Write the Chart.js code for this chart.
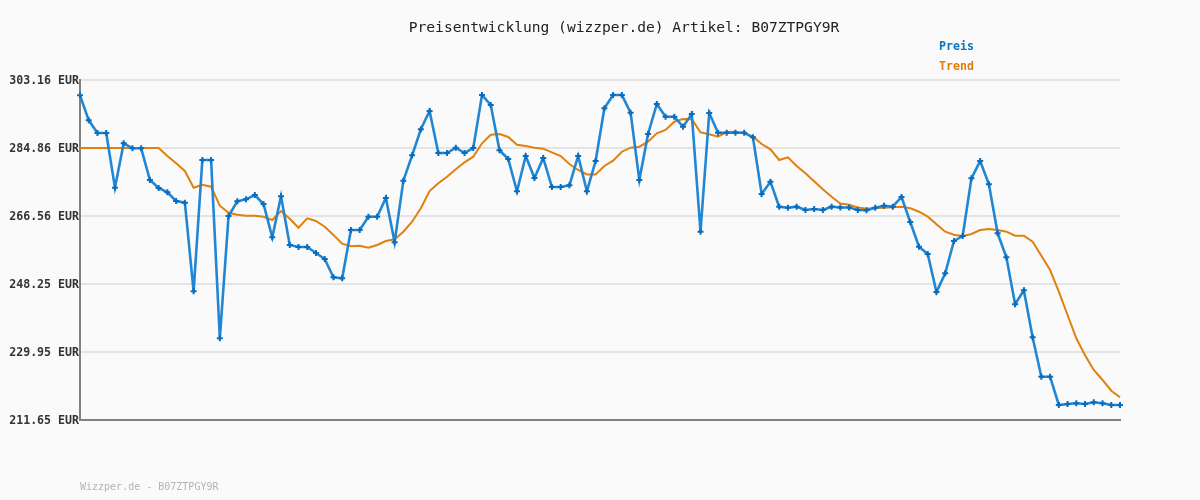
<!DOCTYPE html>
<html>
<head>
<meta charset="utf-8">
<script src="https://cdn.jsdelivr.net/npm/chart.js@4/dist/chart.umd.min.js"></script>
<style>
html,body{margin:0;padding:0;background:#fafafa;}
#wrap{width:1200px;height:500px;position:relative;}
</style>
</head>
<body>
<div id="wrap"><canvas id="c" width="1200" height="500"></canvas></div>
<script>
const titleText = "Preisentwicklung (wizzper.de) Artikel: B07ZTPGY9R";
const footerText = "Wizzper.de - B07ZTPGY9R";
const seriesNames = ["Preis", "Trend"];
const yTicks = [211.65, 229.95, 248.25, 266.56, 284.86, 303.16];

const preis = [
299.04,292.31,288.90,288.90,274.17,286.12,284.78,284.78,276.25,274.09,
272.93,270.59,270.14,246.29,281.63,281.63,233.64,266.56,270.51,271.05,
272.21,269.79,260.82,271.86,258.75,258.21,258.21,256.60,254.98,250.06,
249.79,262.79,262.79,266.37,266.37,271.40,259.48,276.06,282.89,289.89,
294.82,283.51,283.51,284.94,283.51,284.86,299.12,296.43,284.24,281.90,
273.20,282.71,276.78,282.17,274.36,274.36,274.82,282.71,273.23,281.36,
295.54,299.12,299.12,294.36,276.25,288.63,296.70,293.28,293.28,290.59,
294.01,262.33,294.28,288.98,288.98,288.98,288.98,287.74,272.48,275.79,
269.06,268.79,269.06,268.17,268.44,268.17,269.06,268.84,268.84,268.17,
268.09,268.79,269.33,269.06,271.67,264.94,258.29,256.33,246.10,251.13,
259.83,261.17,276.70,281.36,275.09,261.90,255.44,242.79,246.56,233.91,
223.30,223.30,215.69,215.96,216.14,215.96,216.41,216.14,215.69,215.69
];

const trend = [
284.86,284.86,284.86,284.86,284.86,284.86,284.86,284.86,284.86,284.86,
282.71,280.74,278.67,274.17,274.98,274.44,269.33,267.44,266.91,266.64,
266.64,266.37,265.48,267.90,265.83,263.41,265.94,265.21,263.68,261.44,
259.10,258.40,258.56,258.02,258.75,259.83,260.28,262.33,265.02,268.63,
273.28,275.36,277.13,279.12,281.01,282.52,286.12,288.44,288.63,287.82,
285.75,285.40,284.94,284.67,283.70,282.71,280.55,278.94,277.73,277.73,
280.01,281.44,283.86,284.94,285.21,286.55,288.81,289.70,291.94,292.66,
292.58,289.08,288.55,287.90,289.16,289.25,288.81,287.90,285.93,284.51,
281.63,282.36,280.01,278.05,275.90,273.74,271.75,269.92,269.57,268.84,
268.52,268.71,268.79,268.90,269.06,268.63,267.71,266.37,264.32,262.33,
261.52,261.09,261.71,262.79,263.06,262.79,262.33,261.25,261.25,259.64,
255.87,252.02,246.18,239.91,233.64,229.06,225.11,222.42,219.54,217.76
];

const categories = preis.map((_, i) => String(i + 1));

const MONO = '"DejaVu Sans Mono", "Liberation Mono", monospace';

const decor = {
  id: 'decor',
  beforeDraw(chart) {
    const ctx = chart.ctx;
    ctx.save();
    ctx.fillStyle = '#fafafa';
    ctx.fillRect(0, 0, chart.width, chart.height);
    ctx.restore();
  },
  afterDraw(chart) {
    const ctx = chart.ctx;
    ctx.save();
    ctx.textBaseline = 'middle';
    ctx.textAlign = 'center';
    ctx.fillStyle = '#222222';
    ctx.font = '14.6px ' + MONO;
    ctx.fillText(titleText, 624, 28);
    ctx.textAlign = 'left';
    ctx.font = 'bold 11.6px ' + MONO;
    ctx.fillStyle = '#0a76c4';
    ctx.fillText(seriesNames[0], 939, 47);
    ctx.fillStyle = '#e07d0e';
    ctx.fillText(seriesNames[1], 939, 67);
    ctx.font = '10px ' + MONO;
    ctx.fillStyle = '#b4b4b4';
    ctx.fillText(footerText, 80, 487);
    ctx.restore();
  }
};

new Chart(document.getElementById('c'), {
  type: 'line',
  data: {
    labels: categories,
    datasets: [
      {
        label: seriesNames[0],
        data: preis,
        borderColor: '#2186d3',
        borderWidth: 2.6,
        pointStyle: 'cross',
        pointRadius: 3,
        pointBorderWidth: 2,
        pointBorderColor: '#0a6cbc',
        pointBackgroundColor: '#0a6cbc',
        tension: 0,
        fill: false
      },
      {
        label: seriesNames[1],
        data: trend,
        borderColor: '#e0800f',
        borderWidth: 2,
        pointRadius: 0,
        tension: 0,
        fill: false
      }
    ]
  },
  options: {
    responsive: false,
    animation: false,
    devicePixelRatio: 1,
    layout: { padding: { top: 80, right: 80, bottom: 80, left: 0 } },
    plugins: {
      legend: { display: false },
      title: { display: false },
      tooltip: { enabled: false }
    },
    scales: {
      x: {
        type: 'category',
        offset: false,
        grid: { display: false, drawTicks: false },
        ticks: { display: false },
        border: { display: true, color: '#808080', width: 2 },
        afterFit(s) { s.height = 0; }
      },
      y: {
        min: yTicks[0],
        max: yTicks[yTicks.length - 1],
        afterBuildTicks(s) { s.ticks = yTicks.map(v => ({ value: v })); },
        afterFit(s) { s.width = 80; },
        grid: { color: '#e4e4e4', lineWidth: 2, drawTicks: false },
        border: { display: true, color: '#808080', width: 2 },
        ticks: {
          padding: 1,
          labelOffset: 1,
          color: '#333333',
          font: { family: MONO, size: 11.6, weight: 'bold' },
          callback: (v) => Number(v).toFixed(2) + ' EUR'
        }
      }
    }
  },
  plugins: [decor]
});
</script>
</body>
</html>
